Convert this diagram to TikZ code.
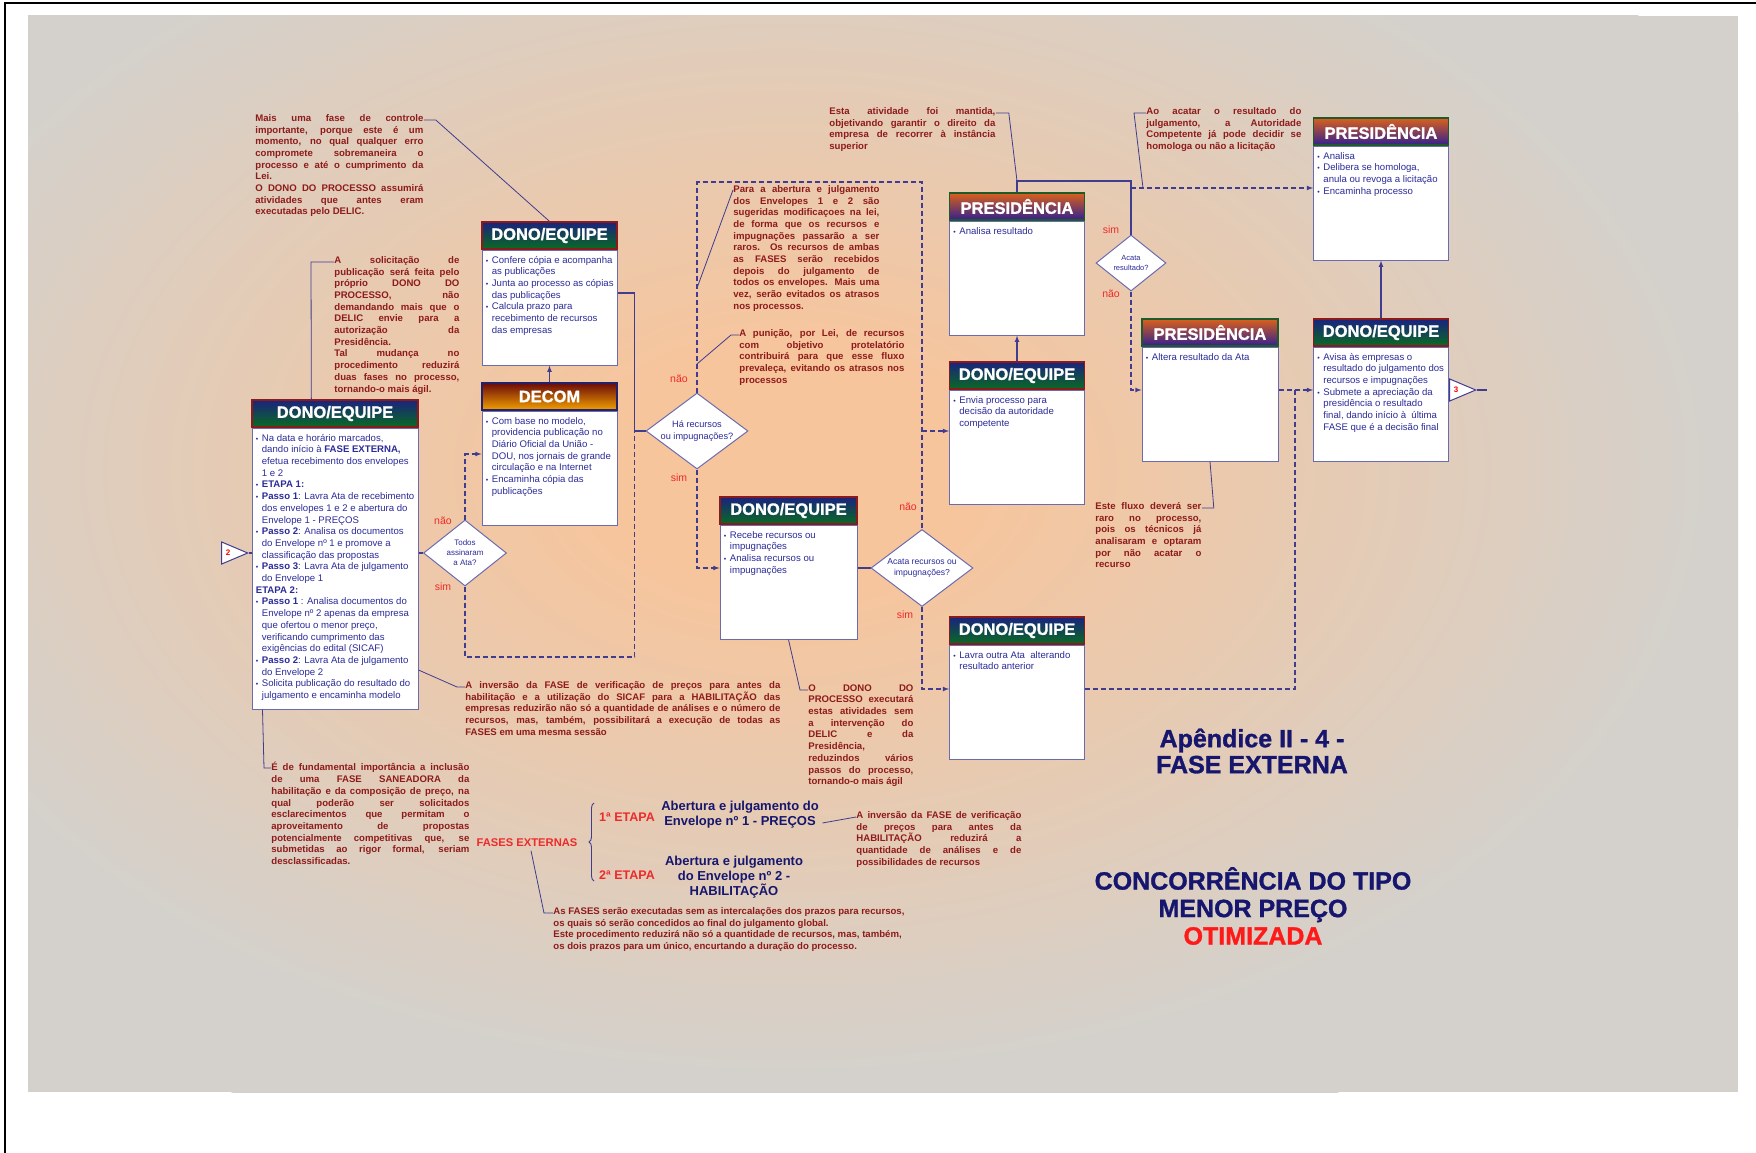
\documentclass[tikz,border=0pt]{standalone}
\usepackage{fontspec}
\setmainfont{Liberation Sans}
\newfontfamily\fontepesada[FakeBold=1.2]{Liberation Sans Bold}
\usepackage{tikz}
\usetikzlibrary{arrows,shapes.geometric,decorations.pathreplacing}
\tolerance=10000
\hbadness=10000
\hyphenpenalty=10000
\definecolor{linha}{HTML}{403C90}
\definecolor{azultexto}{HTML}{2B2B99}
\definecolor{vermelhonota}{HTML}{8E1B1B}
\definecolor{vermelhorotulo}{HTML}{EE2A2A}
\definecolor{bordacorpo}{HTML}{6B6BB0}
\definecolor{azultitulo}{HTML}{16166E}
\definecolor{vermelhotitulo}{HTML}{FF1A1A}
\definecolor{cinzafundo}{HTML}{D4D1CC}
\definecolor{pessego}{HTML}{F7C59C}
\definecolor{azuldono}{HTML}{1A237E}
\definecolor{verdedono}{HTML}{0A6A23}
\definecolor{bordadono}{HTML}{8B1A1A}
\definecolor{laranjapres}{HTML}{D9601C}
\definecolor{roxopres}{HTML}{33208F}
\definecolor{bordapres}{HTML}{1F5A2A}
\definecolor{vermelhodecom}{HTML}{6B0A0A}
\definecolor{amarelodecom}{HTML}{F2A000}
\definecolor{bordadecom}{HTML}{22226A}
\pgfdeclareradialshading{brilho}{\pgfpoint{0bp}{0bp}}{color(0bp)=(pessego); color(4bp)=(pessego); color(21bp)=(cinzafundo); color(50bp)=(cinzafundo)}
\tikzstyle{cabecalho}=[line width=1.3pt, text=white, font=\fontsize{16.5}{16.5}\fontepesada\selectfont, minimum width=135pt, minimum height=27pt, inner sep=0pt]
\tikzstyle{cabdono}=[cabecalho, draw=bordadono, top color=azuldono, bottom color=verdedono]
\tikzstyle{cabpres}=[cabecalho, draw=bordapres, top color=laranjapres, bottom color=roxopres]
\tikzstyle{cabdecom}=[cabecalho, draw=bordadecom, top color=vermelhodecom, bottom color=amarelodecom]
\tikzstyle{corpo}=[draw=bordacorpo, fill=white, line width=1pt, anchor=north, minimum width=135pt, minimum height=114pt, inner sep=0pt]
\tikzstyle{textocorpo}=[anchor=north west, align=left, inner sep=0pt, text=azultexto, font=\fontsize{9.6}{11.7}\selectfont]
\tikzstyle{nota}=[anchor=north west, align=justify, inner sep=0pt, text=vermelhonota, font=\fontsize{9.6}{11.7}\bfseries\selectfont]
\tikzstyle{notalivre}=[anchor=north west, align=left, inner sep=0pt, text=vermelhonota, font=\fontsize{9.6}{11.7}\bfseries\selectfont]
\tikzstyle{decisao}=[diamond, draw=bordacorpo, fill=white, line width=1pt, inner sep=0pt]
\tikzstyle{textodecisao}=[align=center, inner sep=0pt, text=azultexto]
\tikzstyle{rotulo}=[text=vermelhorotulo, font=\fontsize{10.5}{12}\selectfont, inner sep=0pt]
\tikzstyle{liga}=[draw=linha, line width=1.1pt]
\tikzstyle{tracejado}=[draw=linha, line width=1.1pt, dash pattern=on 5pt off 3pt]
\tikzstyle{ponteiro}=[draw=linha, line width=0.8pt]
\tikzstyle{conector}=[isosceles triangle, isosceles triangle stretches=true, draw=linha, fill=white, line width=1pt, minimum width=22pt, minimum height=26pt, inner sep=0pt, text=red, font=\fontsize{8}{8}\bfseries\selectfont]
\tikzstyle{titulo}=[align=center, text=azultitulo, font=\fontsize{25}{26}\fontepesada\selectfont]
\tikzstyle{etapa}=[text=vermelhorotulo, font=\fontsize{12.5}{14}\bfseries\selectfont]
\tikzstyle{descetapa}=[align=center, text=azultitulo, font=\fontsize{13}{15}\bfseries\selectfont]
\newcommand{\bl}{\makebox[6pt][l]{\fontsize{7}{7}\selectfont\textbullet}}
\newcommand{\hg}{\hspace*{6pt}}

\begin{document}
\begin{tikzpicture}[x=1pt, y=-1pt, thick, >=latex]
	\useasboundingbox (0,0) rectangle (1756,1153);
	% fundo
	\fill[white] (0,0) rectangle (1756,1153);
	\draw[black, line width=1.5pt] (5,1153) -- (5,3) -- (1756,3);
	\fill[cinzafundo] (28,16) rectangle (1738,1092);
	\begin{scope}
		\clip (28,16) rectangle (1738,1092);
		\shade[shading=brilho] (785,470) ellipse (1100pt and 720pt);
	\end{scope}

	% caixas
	\node[cabdono, minimum width=166pt] (dono1h) at (335,413.5) {DONO/EQUIPE};
	\node[corpo, minimum width=166pt, minimum height=281pt] (dono1) at (dono1h.south) {};
	\node[textocorpo] (dono1t) at ([xshift=4pt,yshift=-6pt]dono1.north west) {\bl Na data e horário marcados,\\
		\hg dando início à \textbf{FASE EXTERNA,}\\
		\hg efetua recebimento dos envelopes\\
		\hg 1 e 2\\
		\bl\textbf{ETAPA 1:}\\
		\bl\textbf{Passo 1}: Lavra Ata de recebimento\\
		\hg dos envelopes 1 e 2 e abertura do\\
		\hg Envelope 1 - PREÇOS\\
		\bl\textbf{Passo 2}: Analisa os documentos\\
		\hg do Envelope nº 1 e promove a\\
		\hg classificação das propostas\\
		\bl\textbf{Passo 3}: Lavra Ata de julgamento\\
		\hg do Envelope 1\\
		\textbf{ETAPA 2:}\\
		\bl\textbf{Passo 1} : Analisa documentos do\\
		\hg Envelope nº 2 apenas da empresa\\
		\hg que ofertou o menor preço,\\
		\hg verificando cumprimento das\\
		\hg exigências do edital (SICAF)\\
		\bl\textbf{Passo 2}: Lavra Ata de julgamento\\
		\hg do Envelope 2\\
		\bl Solicita publicação do resultado do\\
		\hg julgamento e encaminha modelo};

	\node[cabdono] (dono2h) at (549.5,235.5) {DONO/EQUIPE};
	\node[corpo, minimum height=115pt] (dono2) at (dono2h.south) {};
	\node[textocorpo] (dono2t) at ([xshift=4pt,yshift=-6pt]dono2.north west) {\bl Confere cópia e acompanha\\
		\hg as publicações\\
		\bl Junta ao processo as cópias\\
		\hg das publicações\\
		\bl Calcula prazo para\\
		\hg recebimento de recursos\\
		\hg das empresas};

	\node[cabdecom] (decomh) at (549.5,396.5) {DECOM};
	\node[corpo] (decom) at (decomh.south) {};
	\node[textocorpo] (decomt) at ([xshift=4pt,yshift=-6pt]decom.north west) {\bl Com base no modelo,\\
		\hg providencia publicação no\\
		\hg Diário Oficial da União -\\
		\hg DOU, nos jornais de grande\\
		\hg circulação e na Internet\\
		\bl Encaminha cópia das\\
		\hg publicações};

	\node[cabdono, minimum width=137pt] (dono3h) at (788.5,510.5) {DONO/EQUIPE};
	\node[corpo, minimum width=137pt] (dono3) at (dono3h.south) {};
	\node[textocorpo] (dono3t) at ([xshift=4pt,yshift=-6pt]dono3.north west) {\bl Recebe recursos ou\\
		\hg impugnações\\
		\bl Analisa recursos ou\\
		\hg impugnações};

	\node[cabpres] (pres1h) at (1017,206.5) {PRESIDÊNCIA};
	\node[corpo] (pres1) at (pres1h.south) {};
	\node[textocorpo] (pres1t) at ([xshift=4pt,yshift=-6pt]pres1.north west) {\bl Analisa resultado};

	\node[cabdono] (dono4h) at (1017,375.5) {DONO/EQUIPE};
	\node[corpo] (dono4) at (dono4h.south) {};
	\node[textocorpo] (dono4t) at ([xshift=4pt,yshift=-6pt]dono4.north west) {\bl Envia processo para\\
		\hg decisão da autoridade\\
		\hg competente};

	\node[cabdono] (dono5h) at (1017,630.5) {DONO/EQUIPE};
	\node[corpo] (dono5) at (dono5h.south) {};
	\node[textocorpo] (dono5t) at ([xshift=4pt,yshift=-6pt]dono5.north west) {\bl Lavra outra Ata\ \ alterando\\
		\hg resultado anterior};

	\node[cabpres, minimum width=136pt] (pres2h) at (1210,332.5) {PRESIDÊNCIA};
	\node[corpo, minimum width=136pt] (pres2) at (pres2h.south) {};
	\node[textocorpo] (pres2t) at ([xshift=4pt,yshift=-6pt]pres2.north west) {\bl Altera resultado da Ata};

	\node[cabpres] (pres3h) at (1381,131.5) {PRESIDÊNCIA};
	\node[corpo] (pres3) at (pres3h.south) {};
	\node[textocorpo] (pres3t) at ([xshift=4pt,yshift=-6pt]pres3.north west) {\bl Analisa\\
		\bl Delibera se homologa,\\
		\hg anula ou revoga a licitação\\
		\bl Encaminha processo};

	\node[cabdono] (dono6h) at (1381,332.5) {DONO/EQUIPE};
	\node[corpo] (dono6) at (dono6h.south) {};
	\node[textocorpo] (dono6t) at ([xshift=4pt,yshift=-6pt]dono6.north west) {\bl Avisa às empresas o\\
		\hg resultado do julgamento dos\\
		\hg recursos e impugnações\\
		\bl Submete a apreciação da\\
		\hg presidência o resultado\\
		\hg final, dando início à\ \ última\\
		\hg FASE que é a decisão final};

	% decisoes
	\node[decisao, minimum width=83pt, minimum height=66pt] (q1) at (465,553) {};
	\node[textodecisao, font=\fontsize{8}{10}\selectfont] (q1t) at (q1) {Todos\\assinaram\\a Ata?};
	\node[decisao, minimum width=102pt, minimum height=76pt] (q2) at (697,431) {};
	\node[textodecisao, font=\fontsize{9.2}{11.5}\selectfont] (q2t) at (q2) {Há recursos\\ou impugnações?};
	\node[decisao, minimum width=102pt, minimum height=77pt] (q3) at (922,568) {};
	\node[textodecisao, font=\fontsize{8.6}{11}\selectfont] (q3t) at (q3) {Acata recursos ou\\impugnações?};
	\node[decisao, minimum width=70pt, minimum height=56pt] (q4) at (1131,263) {};
	\node[textodecisao, font=\fontsize{7.5}{10}\selectfont] (q4t) at (q4) {Acata\\resultado?};

	% conectores de pagina
	\node[conector, anchor=apex] (t2) at (249,553) {2};
	\node[conector, anchor=apex] (t3) at (1477,390) {3};
	\coordinate (saida) at (1487,390);
	\coordinate (juncao) at (1295,390);

	% rotulos
	\node[rotulo] (r1n) at (443,521) {não};
	\node[rotulo] (r1s) at (443,587) {sim};
	\node[rotulo] (r2n) at (679,379) {não};
	\node[rotulo] (r2s) at (679,478) {sim};
	\node[rotulo] (r3n) at (908,507) {não};
	\node[rotulo] (r3s) at (905,615) {sim};
	\node[rotulo] (r4s) at (1111,230) {sim};
	\node[rotulo] (r4n) at (1111,294) {não};

	% fluxo
	\path[liga] (t2.apex) -- (t2.apex -| dono1.west);
	\path[liga] (q1.west -| dono1.east) -- (q1.west);
	\path[tracejado, ->] (q1.north) |- (decom.west |- 0,454);
	\path[tracejado] (q1.south) |- ([xshift=-11pt]q2.west |- 0,657) -- ([xshift=-11pt]q2.west);
	\path[liga, ->] (decomh.north) -- (dono2.south);
	\path[liga] (dono2.east |- 0,293) -| ([xshift=-11pt]q2.west) -- (q2.west);
	\path[tracejado] (q2.north) |- (q3.north |- 0,182) -- (q3.north);
	\path[tracejado, ->] (q3.north |- 0,431) -- (dono4.west |- 0,431);
	\path[tracejado, ->] (q2.south) |- (dono3.west |- 0,568);
	\path[liga] (dono3.east |- q3.west) -- (q3.west);
	\path[tracejado, ->] (q3.south) |- (dono5.west |- 0,689);
	\path[liga, ->] (dono4h.north) -- (pres1.south);
	\path[liga] (pres1h.north) |- (q4.north |- 0,181) -- (q4.north);
	\path[tracejado, ->] (q4.north |- 0,188) -- (pres3.west |- 0,188);
	\path[tracejado, ->] (q4.south) |- (pres2.west |- 0,390);
	\path[tracejado, ->] (pres2.east |- 0,390) -- (dono6.west |- 0,390);
	\path[tracejado] (dono5.east |- 0,689) -| (juncao);
	\path[liga, ->] (dono6h.north) -- (pres3.south);
	\path[liga] (dono6.east |- t3.lower side) -- (t3.lower side);
	\path[liga] (t3.apex) -- (saida);

	% notas
	\node[nota, text width=168pt] (nota1) at (255,114) {Mais uma fase de controle\linebreak
		importante, porque este é um\linebreak
		momento, no qual qualquer erro\linebreak
		compromete sobremaneira o\linebreak
		processo e até o cumprimento da\linebreak
		Lei.\\
		O DONO DO PROCESSO assumirá\linebreak
		atividades que antes eram\linebreak
		executadas pelo DELIC.};
	\node[nota, text width=125pt] (nota2) at (334,256) {A solicitação de\linebreak
		publicação será feita pelo\linebreak
		próprio DONO DO\linebreak
		PROCESSO, não\linebreak
		demandando mais que o\linebreak
		DELIC envie para a\linebreak
		autorização da\linebreak
		Presidência.\\
		Tal mudança no\linebreak
		procedimento reduzirá\linebreak
		duas fases no processo,\linebreak
		tornando-o mais ágil.};
	\node[nota, text width=146pt] (nota3) at (733,185) {Para a abertura e julgamento\linebreak
		dos Envelopes 1 e 2 são\linebreak
		sugeridas modificaçoes na lei,\linebreak
		de forma que os recursos e\linebreak
		impugnações passarão a ser\linebreak
		raros. Os recursos de ambas\linebreak
		as FASES serão recebidos\linebreak
		depois do julgamento de\linebreak
		todos os envelopes. Mais uma\linebreak
		vez, serão evitados os atrasos\linebreak
		nos processos.};
	\node[nota, text width=165pt] (nota4) at (739,329) {A punição, por Lei, de recursos\linebreak
		com objetivo protelatório\linebreak
		contribuirá para que esse fluxo\linebreak
		prevaleça, evitando os atrasos nos\linebreak
		processos};
	\node[nota, text width=166pt] (nota5) at (829,107) {Esta atividade foi mantida,\linebreak
		objetivando garantir o direito da\linebreak
		empresa de recorrer à instância\linebreak
		superior};
	\node[nota, text width=155pt] (nota6) at (1146,107) {Ao acatar o resultado do\linebreak
		julgamento, a Autoridade\linebreak
		Competente já pode decidir se\linebreak
		homologa ou não a licitação};
	\node[nota, text width=106pt] (nota7) at (1095,502) {Este fluxo deverá ser\linebreak
		raro no processo,\linebreak
		pois os técnicos já\linebreak
		analisaram e optaram\linebreak
		por não acatar o\linebreak
		recurso};
	\node[nota, text width=315pt] (nota8) at (465,681) {A inversão da FASE de verificação de preços para antes da\linebreak
		habilitação e a utilização do SICAF para a HABILITAÇÃO das\linebreak
		empresas reduzirão não só a quantidade de análises e o número de\linebreak
		recursos, mas, também, possibilitará a execução de todas as\linebreak
		FASES em uma mesma sessão};
	\node[nota, text width=105pt] (nota9) at (808,684) {O DONO DO\linebreak
		PROCESSO executará\linebreak
		estas atividades sem\linebreak
		a intervenção do\linebreak
		DELIC e da\linebreak
		Presidência,\linebreak
		reduzindos vários\linebreak
		passos do processo,\linebreak
		tornando-o mais ágil};
	\node[nota, text width=198pt] (nota10) at (271,762) {É de fundamental importância a inclusão\linebreak
		de uma FASE SANEADORA da\linebreak
		habilitação e da composição de preço, na\linebreak
		qual poderão ser solicitados\linebreak
		esclarecimentos que permitam o\linebreak
		aproveitamento de propostas\linebreak
		potencialmente competitivas que, se\linebreak
		submetidas ao rigor formal, seriam\linebreak
		desclassificadas.};
	\node[nota, text width=165pt] (nota11) at (856,811) {A inversão da FASE de verificação\linebreak
		de preços para antes da\linebreak
		HABILITAÇÃO reduzirá a\linebreak
		quantidade de análises e de\linebreak
		possibilidades de recursos};
	\node[notalivre] (nota12) at (553,907) {As FASES serão executadas sem as intercalações dos prazos para recursos,\\
		os quais só serão concedidos ao final do julgamento global.\\
		Este procedimento reduzirá não só a quantidade de recursos, mas, também,\\
		os dois prazos para um único, encurtando a duração do processo.};

	% fases externas
	\node[text=vermelhorotulo, font=\fontsize{11.2}{12}\bfseries\selectfont] (fases) at (527,843) {FASES EXTERNAS};
	\node[etapa] (etapa1) at (627,817) {1ª ETAPA};
	\node[etapa] (etapa2) at (627,875) {2ª ETAPA};
	\node[descetapa] (etapa1d) at (740,815) {Abertura e julgamento do\\Envelope nº 1 - PREÇOS};
	\node[descetapa] (etapa2d) at (734,877) {Abertura e julgamento\\do Envelope nº 2 -\\HABILITAÇÃO};
	\draw[linha, line width=0.9pt, decorate, decoration={brace, amplitude=5pt}] (594,881) -- (594,803);

	% ponteiros das notas
	\path[ponteiro] ([yshift=-6pt]nota1.north east) -- ++(12,0) -- (dono2h.north);
	\path[ponteiro] ([yshift=-6pt]nota2.north west) -- ++(-23,0) -- ([xshift=60pt]dono1h.north west);
	\path[ponteiro] ([yshift=-5pt]nota3.north west) -- (q2.north |- 0,288);
	\path[ponteiro] ([yshift=-6pt]nota4.north west) -- ++(-8,0) -- (q2.north |- 0,364);
	\path[ponteiro] ([yshift=-6pt]nota5.north east) -- ++(13,0) -- (pres1h.north |- 0,181);
	\path[ponteiro] ([yshift=-6pt]nota6.north west) -- ++(-12,0) -- ([xshift=12pt]q4.north |- 0,188);
	\path[ponteiro] ([yshift=-6pt]nota7.north east) -- ++(12,0) -- (pres2.south);
	\path[ponteiro] ([yshift=-6pt]nota8.north west) -- ++(-8,0) -- (dono1.east |- 0,670);
	\path[ponteiro] (dono3.south) -- ([xshift=-8pt,yshift=-6pt]nota9.north west) -- ([yshift=-6pt]nota9.north west);
	\path[ponteiro] ([xshift=11pt]dono1.south west) -- ([xshift=-7pt,yshift=-6pt]nota10.north west) -- ([yshift=-6pt]nota10.north west);
	\path[ponteiro] ([yshift=-8pt]etapa1d.east) -- ([yshift=-6pt]nota11.north west);
	\path[ponteiro] ([xshift=4pt]fases.south) -- ([xshift=-9pt,yshift=-6pt]nota12.north west) -- ([yshift=-6pt]nota12.north west);

	% titulos
	\node[titulo] (apendice) at (1252,751) {Apêndice II - 4 -\\FASE EXTERNA};
	\node[titulo, font=\fontsize{25}{27.5}\fontepesada\selectfont] (concorrencia) at (1253,906) {CONCORRÊNCIA DO TIPO\\MENOR PREÇO\\\textcolor{vermelhotitulo}{OTIMIZADA}};
\end{tikzpicture}
\end{document}
